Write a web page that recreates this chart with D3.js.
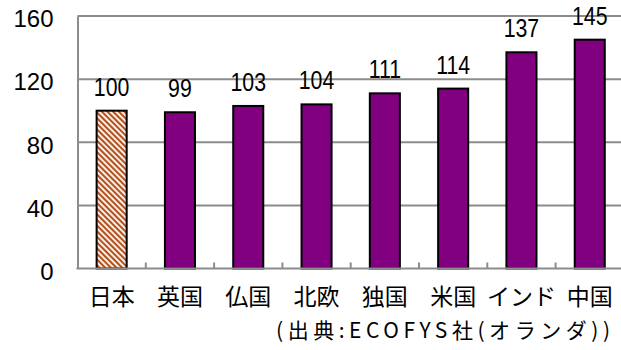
<!DOCTYPE html>
<html>
<head>
<meta charset="utf-8">
<script src="https://cdn.jsdelivr.net/npm/d3@7"></script>
<style>
  html, body { margin: 0; padding: 0; background: #fff; }
  svg { display: block; }
</style>
</head>
<body>
<svg id="chart" width="621" height="350"></svg>
<script>
// Relative index (Japan = 100)
const categories = ["日本", "英国", "仏国", "北欧", "独国", "米国", "インド", "中国"];
const values = [100, 99, 103, 104, 111, 114, 137, 145];
const yTicks = [0, 40, 80, 120, 160];
const sourceNote = "(出典:ECOFYS社(オランダ))";

const svg = d3.select("#chart");
const plotLeft = 77.5, plotTop = 16, plotBottom = 268.5, step = 68.3;
const plotRight = plotLeft + step * categories.length;

const x = d3.scaleBand()
  .domain(categories)
  .range([plotLeft, plotRight])
  .paddingInner(0.56)
  .paddingOuter(0.28);

const y = d3.scaleLinear().domain([0, 160]).range([plotBottom, plotTop]);

// Diagonal hatch for the reference bar
const defs = svg.append("defs");
const pat = defs.append("pattern")
  .attr("id", "hatch")
  .attr("patternUnits", "userSpaceOnUse")
  .attr("width", 4).attr("height", 4)
  .attr("patternTransform", "rotate(-45)");
pat.append("rect").attr("width", 4).attr("height", 4).attr("fill", "#ffffff");
pat.append("rect").attr("width", 2.2).attr("height", 4).attr("fill", "#b5521c");

const gridColor = "#8c8c8c";

// Horizontal gridlines
svg.append("g")
  .selectAll("line")
  .data(yTicks.filter(d => d > 0))
  .join("line")
  .attr("x1", plotLeft).attr("x2", 621)
  .attr("y1", d => y(d)).attr("y2", d => y(d))
  .attr("stroke", gridColor).attr("stroke-width", 2);

// Y axis
const yAxis = svg.append("g")
  .attr("transform", `translate(${plotLeft},0)`)
  .call(d3.axisLeft(y).tickValues(yTicks).tickSize(0).tickPadding(24));
yAxis.select(".domain").attr("stroke", gridColor).attr("stroke-width", 2);
yAxis.selectAll("text")
  .attr("font-family", "Liberation Sans, Arial, sans-serif")
  .attr("font-size", 24)
  .attr("fill", "#000")
  .attr("dy", "0.45em");

// Bars
svg.append("g")
  .selectAll("rect")
  .data(categories.map((c, i) => ({ c, v: values[i], i })))
  .join("rect")
  .attr("x", d => x(d.c))
  .attr("width", x.bandwidth())
  .attr("y", d => y(d.v))
  .attr("height", d => y(0) - y(d.v))
  .attr("fill", d => d.i === 0 ? "url(#hatch)" : "#800080")
  .attr("stroke", "#000")
  .attr("stroke-width", 2);

// X axis line and inner ticks between categories
svg.append("line")
  .attr("x1", plotLeft - 1).attr("x2", 621)
  .attr("y1", plotBottom).attr("y2", plotBottom)
  .attr("stroke", gridColor).attr("stroke-width", 2);

const gap = x.step() * x.paddingInner();
svg.append("g")
  .selectAll("line")
  .data(categories.slice(1))
  .join("line")
  .attr("x1", d => x(d) - gap / 2).attr("x2", d => x(d) - gap / 2)
  .attr("y1", plotBottom).attr("y2", plotBottom - 6)
  .attr("stroke", gridColor).attr("stroke-width", 2);

// Value labels (condensed digits)
svg.append("g")
  .selectAll("text")
  .data(categories.map((c, i) => ({ c, v: values[i] })))
  .join("text")
  .attr("transform", d => `translate(${x(d.c) + x.bandwidth() / 2},${y(d.v) - 15}) scale(0.82,1)`)
  .attr("text-anchor", "middle")
  .attr("font-family", "Liberation Sans, Arial, sans-serif")
  .attr("font-size", 26)
  .attr("fill", "#000")
  .text(d => d.v);

// Category labels
svg.append("g")
  .selectAll("text")
  .data(categories)
  .join("text")
  .attr("x", d => x(d) + x.bandwidth() / 2)
  .attr("y", 305)
  .attr("text-anchor", "middle")
  .attr("font-family", "Noto Sans CJK JP, sans-serif")
  .attr("font-size", 23)
  .attr("fill", "#000")
  .text(d => d);

// Source note
svg.append("text")
  .attr("x", 276)
  .attr("y", 338)
  .attr("textLength", 334)
  .attr("lengthAdjust", "spacing")
  .attr("font-family", "Noto Sans CJK JP, sans-serif")
  .attr("font-size", 21)
  .attr("fill", "#000")
  .text(sourceNote);
</script>
</body>
</html>
